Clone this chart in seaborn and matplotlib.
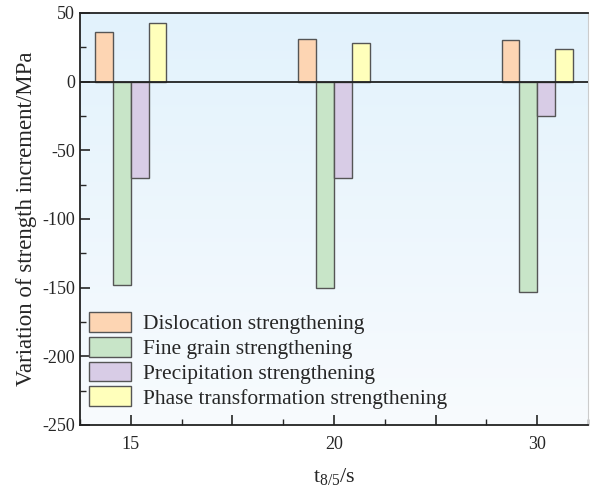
import numpy as np
import pandas as pd
import matplotlib
matplotlib.use("Agg")
import matplotlib.pyplot as plt
import seaborn as sns
from matplotlib.ticker import MultipleLocator

times = ["15", "20", "30"]
mechanisms = [
    "Dislocation strengthening",
    "Fine grain strengthening",
    "Precipitation strengthening",
    "Phase transformation strengthening",
]
dislocation = [36, 31, 30]
fine_grain = [-148, -150, -153]
precipitation = [-70, -70, -25]
phase_trans = [43, 28, 24]
colors = ["#FDD5B3", "#C8E5C8", "#D8CCE6", "#FFFFBB"]

df = pd.DataFrame({
    "t": times * 4,
    "mech": np.repeat(mechanisms, 3),
    "val": dislocation + fine_grain + precipitation + phase_trans,
})

sns.set_style("ticks")
plt.rcParams["font.family"] = ["Liberation Serif", "DejaVu Serif"]
plt.rcParams["mathtext.fontset"] = "stix"
plt.rcParams["axes.unicode_minus"] = False

fig = plt.figure(figsize=(5.9, 4.9), dpi=100)
ax = fig.add_axes([0.1356, 0.1327, 0.861, 0.8408])

# light blue gradient background
grad = np.linspace(0, 1, 256).reshape(-1, 1)
cmap = matplotlib.colors.LinearSegmentedColormap.from_list("bg", ["#E2F2FC", "#F8FBFE"])
ax.imshow(grad, extent=[0, 1, 0, 1], transform=ax.transAxes, cmap=cmap,
          aspect="auto", zorder=0)

sns.barplot(data=df, x="t", y="val", hue="mech", hue_order=mechanisms,
            palette=colors, saturation=1, width=0.35, edgecolor="#555555",
            linewidth=1.0, ax=ax, zorder=2)

ax.axhline(0, color="#222222", lw=1.3, zorder=3)
ax.set_xlim(-0.25, 2.25)
ax.set_ylim(-250, 50)
ax.yaxis.set_major_locator(MultipleLocator(50))
ax.yaxis.set_minor_locator(MultipleLocator(25))
ax.set_xticks([0, 0.5, 1, 1.5, 2])
ax.set_xticklabels(["15", "", "20", "", "30"])
ax.xaxis.set_minor_locator(MultipleLocator(0.25))
ax.tick_params(which="major", direction="in", length=7, width=1.2, labelsize=13)
ax.tick_params(which="minor", direction="in", length=4, width=1.0)
ax.tick_params(axis="x", pad=8)

for s in ["left", "bottom", "top"]:
    ax.spines[s].set_linewidth(1.3)
    ax.spines[s].set_color("#222222")
ax.spines["right"].set_color("#cccccc")

ax.set_xlabel(r"$\mathregular{t_{8/5}}$/s", fontsize=16, labelpad=9)
ax.set_ylabel("Variation of strength increment/MPa", fontsize=16.5, labelpad=4)

ax.legend(loc="lower left", frameon=False, fontsize=15.5, handlelength=1.95,
          handleheight=1.05, handletextpad=0.55, labelspacing=0.12,
          borderaxespad=0.2, bbox_to_anchor=(-0.007, 0.008))

fig.savefig("out.png", dpi=100)
